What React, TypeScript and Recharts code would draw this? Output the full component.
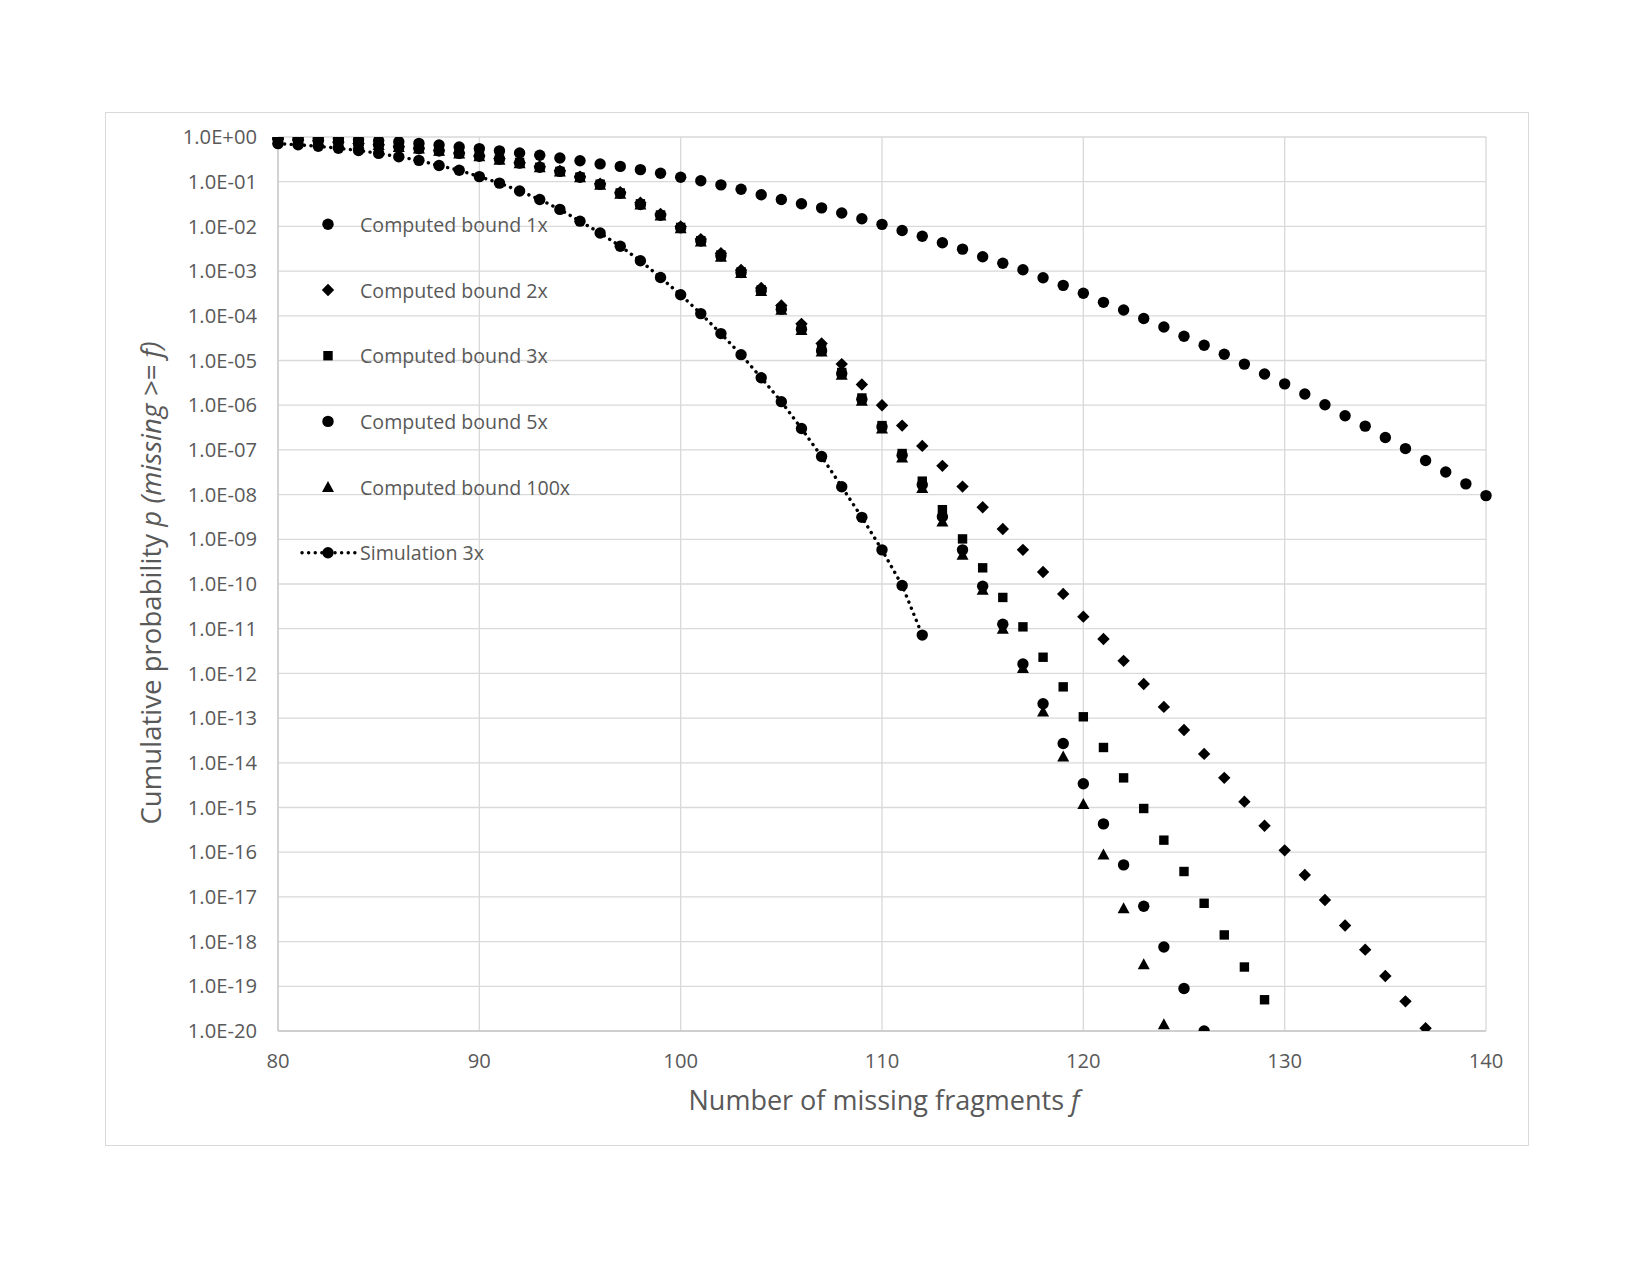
import React from "react";
import { CartesianGrid, Legend, Scatter, ScatterChart, XAxis, YAxis } from "recharts";

const fragments = [
  80, 81, 82, 83, 84, 85, 86, 87, 88, 89,
  90, 91, 92, 93, 94, 95, 96, 97, 98, 99,
  100, 101, 102, 103, 104, 105, 106, 107, 108, 109,
  110, 111, 112, 113, 114, 115, 116, 117, 118, 119,
  120, 121, 122, 123, 124, 125, 126, 127, 128, 129,
  130, 131, 132, 133, 134, 135, 136, 137, 138, 139,
  140,
];

// cumulative probability per f, starting at f = 80
const bound1x = [
  0.97, 0.95, 0.93, 0.91, 0.87, 0.83, 0.78, 0.72, 0.66, 0.6,
  0.55, 0.49, 0.44, 0.39, 0.34, 0.295, 0.25, 0.22, 0.186, 0.155,
  0.126, 0.105, 0.085, 0.068, 0.051, 0.04, 0.032, 0.026, 0.02, 0.0148,
  0.0111, 0.0081, 0.006, 0.0043, 0.0031, 0.0021, 0.0015, 0.00107, 7.1e-4, 4.8e-4,
  3.2e-4, 2.0e-4, 1.35e-4, 8.7e-5, 5.6e-5, 3.5e-5, 2.2e-5, 1.38e-5, 8.3e-6, 5.0e-6,
  3.0e-6, 1.78e-6, 1.02e-6, 5.8e-7, 3.4e-7, 1.9e-7, 1.07e-7, 5.8e-8, 3.2e-8, 1.74e-8,
  9.5e-9,
];

const bound2x = [
  0.9, 0.86, 0.82, 0.77, 0.72, 0.67, 0.61, 0.56, 0.5, 0.44,
  0.38, 0.33, 0.27, 0.22, 0.175, 0.13, 0.09, 0.058, 0.034, 0.019,
  0.01, 0.0052, 0.0025, 0.00106, 4.2e-4, 1.7e-4, 6.6e-5, 2.4e-5, 8.3e-6, 2.9e-6,
  1.0e-6, 3.5e-7, 1.23e-7, 4.4e-8, 1.51e-8, 5.2e-9, 1.7e-9, 5.8e-10, 1.86e-10, 6.0e-11,
  1.86e-11, 5.9e-12, 1.91e-12, 5.8e-13, 1.78e-13, 5.4e-14, 1.58e-14, 4.6e-15, 1.35e-15, 3.9e-16,
  1.1e-16, 3.1e-17, 8.5e-18, 2.3e-18, 6.6e-19, 1.7e-19, 4.6e-20, 1.15e-20,
];

const bound3x = [
  0.89, 0.85, 0.81, 0.76, 0.71, 0.66, 0.61, 0.55, 0.49, 0.43,
  0.38, 0.32, 0.27, 0.21, 0.17, 0.127, 0.088, 0.056, 0.032, 0.018,
  0.0095, 0.0048, 0.0023, 9.6e-4, 3.8e-4, 1.45e-4, 5.2e-5, 1.74e-5, 5.4e-6, 1.45e-6,
  3.5e-7, 8.3e-8, 2.0e-8, 4.6e-9, 1.02e-9, 2.3e-10, 5.0e-11, 1.1e-11, 2.3e-12, 5.0e-13,
  1.07e-13, 2.2e-14, 4.6e-15, 9.5e-16, 1.86e-16, 3.7e-17, 7.2e-18, 1.41e-18, 2.7e-19, 5.0e-20,
];

const bound5x = [
  0.89, 0.85, 0.81, 0.76, 0.71, 0.66, 0.6, 0.55, 0.49, 0.43,
  0.37, 0.32, 0.26, 0.21, 0.17, 0.126, 0.087, 0.055, 0.031, 0.0178,
  0.0093, 0.0047, 0.0022, 9.3e-4, 3.7e-4, 1.41e-4, 5.0e-5, 1.66e-5, 5.1e-6, 1.35e-6,
  3.3e-7, 7.6e-8, 1.66e-8, 3.2e-9, 5.8e-10, 8.9e-11, 1.26e-11, 1.62e-12, 2.1e-13, 2.7e-14,
  3.4e-15, 4.3e-16, 5.2e-17, 6.2e-18, 7.6e-19, 8.9e-20, 1.0e-20,
];

const bound100x = [
  0.89, 0.85, 0.81, 0.76, 0.71, 0.66, 0.6, 0.55, 0.49, 0.43,
  0.37, 0.31, 0.26, 0.21, 0.17, 0.125, 0.086, 0.054, 0.031, 0.0175,
  0.0091, 0.0046, 0.0021, 9.1e-4, 3.6e-4, 1.37e-4, 4.8e-5, 1.58e-5, 4.8e-6, 1.26e-6,
  3.0e-7, 6.8e-8, 1.41e-8, 2.5e-9, 4.5e-10, 7.4e-11, 1.0e-11, 1.32e-12, 1.41e-13, 1.38e-14,
  1.2e-15, 8.9e-17, 5.6e-18, 3.1e-19, 1.41e-20,
];

const simulation3x = [
  0.71, 0.67, 0.62, 0.56, 0.5, 0.43, 0.36, 0.3, 0.23, 0.18,
  0.13, 0.093, 0.062, 0.04, 0.024, 0.0131, 0.0071, 0.0036, 0.0017, 7.2e-4,
  2.95e-4, 1.12e-4, 4.0e-5, 1.35e-5, 4.1e-6, 1.2e-6, 3.0e-7, 7.1e-8, 1.5e-8, 3.1e-9,
  5.8e-10, 9.3e-11, 7.2e-12,
];

const xTicks = [80, 90, 100, 110, 120, 130, 140];
const yTicks = [
  1, 1e-1, 1e-2, 1e-3, 1e-4, 1e-5, 1e-6, 1e-7, 1e-8, 1e-9, 1e-10,
  1e-11, 1e-12, 1e-13, 1e-14, 1e-15, 1e-16, 1e-17, 1e-18, 1e-19, 1e-20,
];
const yTickLabels = [
  "1.0E+00", "1.0E-01", "1.0E-02", "1.0E-03", "1.0E-04", "1.0E-05", "1.0E-06",
  "1.0E-07", "1.0E-08", "1.0E-09", "1.0E-10", "1.0E-11", "1.0E-12", "1.0E-13",
  "1.0E-14", "1.0E-15", "1.0E-16", "1.0E-17", "1.0E-18", "1.0E-19", "1.0E-20",
];

const FONT = "'Open Sans', sans-serif";
const TEXT = "#595959";
const GRID = "#d9d9d9";

const toPoints = (values: number[]) => values.map((p, i) => ({ f: fragments[i], p }));

type Marker = "circle" | "diamond" | "square" | "triangle";

const drawMarker = (kind: Marker, cx: number, cy: number) => {
  if (kind === "diamond") {
    const s = 6.2;
    return <polygon points={`${cx},${cy - s} ${cx + s},${cy} ${cx},${cy + s} ${cx - s},${cy}`} fill="#000" />;
  }
  if (kind === "square") {
    return <rect x={cx - 4.7} y={cy - 4.7} width={9.4} height={9.4} fill="#000" />;
  }
  if (kind === "triangle") {
    return <polygon points={`${cx},${cy - 6} ${cx + 6},${cy + 5} ${cx - 6},${cy + 5}`} fill="#000" />;
  }
  return <circle cx={cx} cy={cy} r={5.7} fill="#000" />;
};

const shapeOf = (kind: Marker) => (props: any) => drawMarker(kind, props.cx, props.cy);

const series = [
  { name: "Computed bound 1x", values: bound1x, marker: "circle" as Marker },
  { name: "Computed bound 2x", values: bound2x, marker: "diamond" as Marker },
  { name: "Computed bound 3x", values: bound3x, marker: "square" as Marker },
  { name: "Computed bound 5x", values: bound5x, marker: "circle" as Marker },
  { name: "Computed bound 100x", values: bound100x, marker: "triangle" as Marker },
];
const simulationName = "Simulation 3x";
const legendOrder = [...series.map((s) => s.name), simulationName];

const yLabel = (v: number) => {
  const i = yTicks.findIndex((t) => Math.abs(Math.log10(t) - Math.log10(v)) < 1e-6);
  return i >= 0 ? yTickLabels[i] : String(v);
};

const renderLegend = (props: any) => {
  const payload: any[] = [...(props.payload || [])].sort(
    (a, b) => legendOrder.indexOf(a.value) - legendOrder.indexOf(b.value),
  );
  return (
    <svg width={320} height={400} style={{ overflow: "visible" }}>
      {payload.map((entry, i) => {
        const y = 34.3 + i * 65.7;
        const s = series.find((d) => d.name === entry.value);
        return (
          <g key={entry.value}>
            {!s && (
              <line x1={12} y1={y} x2={66} y2={y} stroke="#000" strokeWidth={3.4}
                strokeDasharray="0.1 6.5" strokeLinecap="round" />
            )}
            {drawMarker(s ? s.marker : "circle", 38, y)}
            <text x={70} y={y} dominantBaseline="central" fontFamily={FONT} fontSize={19.6} fill={TEXT}>
              {entry.value}
            </text>
          </g>
        );
      })}
    </svg>
  );
};

export default function App() {
  return (
    <div style={{ position: "absolute", left: 0, top: 0, width: 1650, height: 1275, background: "#fff" }}>
      <div
        style={{
          position: "absolute", left: 105, top: 112, width: 1422, height: 1032,
          border: `1px solid ${GRID}`,
        }}
      />
      <div style={{ position: "absolute", left: 0, top: 0 }}>
        <ScatterChart width={1650} height={1275} margin={{ top: 137, right: 164, bottom: 194, left: 158 }}>
          <CartesianGrid stroke={GRID} strokeWidth={1.3} />
          <XAxis
            dataKey="f"
            type="number"
            domain={[80, 140]}
            ticks={xTicks}
            height={50}
            tickLine={false}
            tickSize={0}
            tickMargin={23}
            axisLine={{ stroke: "#c8c8c8", strokeWidth: 1.3 }}
            tick={{ fill: TEXT, fontFamily: FONT, fontSize: 20.2 }}
            label={{
              content: () => (
                <text x={884} y={1110} textAnchor="middle" fontFamily={FONT} fontSize={27} fill={TEXT}>
                  Number of missing fragments <tspan fontStyle="italic">f</tspan>
                </text>
              ),
            }}
          />
          <YAxis
            dataKey="p"
            type="number"
            scale="log"
            domain={[1e-20, 1]}
            allowDataOverflow
            ticks={yTicks}
            interval={0}
            width={120}
            tickLine={false}
            tickSize={0}
            tickMargin={21}
            tickFormatter={yLabel}
            axisLine={{ stroke: "#c8c8c8", strokeWidth: 1.3 }}
            tick={{ fill: TEXT, fontFamily: FONT, fontSize: 20.2 }}
            label={{
              content: () => (
                <text
                  x={161}
                  y={583}
                  transform="rotate(-90 161 583)"
                  textAnchor="middle"
                  fontFamily={FONT}
                  fontSize={27.6}
                  fill={TEXT}
                >
                  Cumulative probability <tspan fontStyle="italic">p (missing &gt;= f)</tspan>
                </text>
              ),
            }}
          />
          {series.map((s) => (
            <Scatter
              key={s.name}
              name={s.name}
              data={toPoints(s.values)}
              fill="#000"
              shape={shapeOf(s.marker)}
              isAnimationActive={false}
            />
          ))}
          <Scatter
            name={simulationName}
            data={toPoints(simulation3x)}
            fill="#000"
            shape={shapeOf("circle")}
            line={{ stroke: "#000", strokeWidth: 3.4, strokeDasharray: "0.1 6.5", strokeLinecap: "round", fill: "none" }}
            lineType="joint"
            isAnimationActive={false}
          />
          <Legend
            layout="vertical"
            align="center"
            verticalAlign="middle"
            content={renderLegend}
            wrapperStyle={{ position: "absolute", left: 290, top: 190, width: 320, height: 400 }}
          />
        </ScatterChart>
      </div>
    </div>
  );
}
